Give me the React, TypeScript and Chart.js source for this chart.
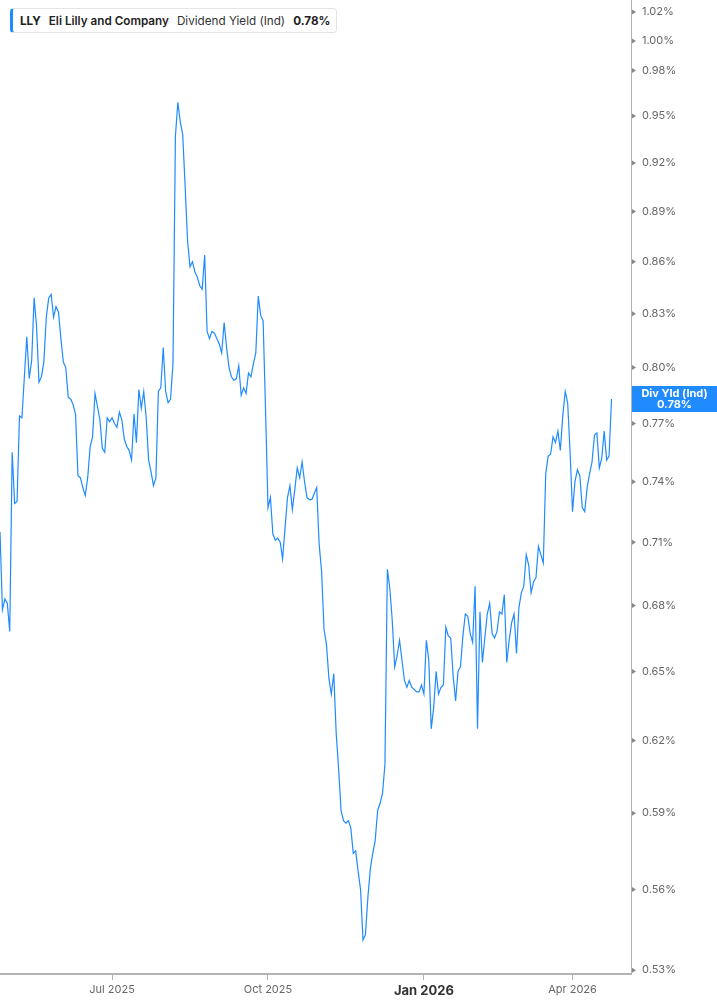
import { useEffect, useRef } from 'react';
import { Chart, registerables } from 'chart.js';

Chart.register(...registerables);

// LLY dividend yield (indicated), one value per trading day, in percent.
const APR_JUN_2025 = [
  0.715, 0.678, 0.683, 0.681, 0.668, 0.755, 0.729, 0.730, 0.774, 0.773,
  0.795, 0.817, 0.794, 0.804, 0.839, 0.823, 0.792, 0.795, 0.803, 0.828,
  0.839, 0.841, 0.828, 0.834, 0.831, 0.816, 0.803, 0.800, 0.784, 0.783,
  0.780, 0.775, 0.743, 0.742, 0.737, 0.733, 0.742, 0.758, 0.763, 0.786,
  0.779, 0.772, 0.757, 0.755, 0.773, 0.771,
];
const JUL_SEP_2025 = [
  0.773, 0.770, 0.768, 0.776, 0.772, 0.762, 0.758, 0.756, 0.751, 0.775,
  0.760, 0.788, 0.778, 0.787, 0.773, 0.751, 0.745, 0.738, 0.742, 0.787,
  0.789, 0.811, 0.787, 0.781, 0.783, 0.802, 0.937, 0.959, 0.946, 0.938,
  0.905, 0.872, 0.857, 0.860, 0.854, 0.851, 0.846, 0.844, 0.864, 0.820,
  0.816, 0.820, 0.819, 0.816, 0.813, 0.808, 0.825, 0.811, 0.800, 0.795,
  0.793, 0.794, 0.801, 0.785, 0.789, 0.786, 0.797, 0.795, 0.802, 0.808,
  0.840, 0.829, 0.826, 0.777,
];
const OCT_DEC_2025 = [
  0.727, 0.732, 0.714, 0.711, 0.712, 0.710, 0.702, 0.717, 0.732, 0.738,
  0.726, 0.736, 0.747, 0.742, 0.750, 0.740, 0.732, 0.731, 0.731, 0.734,
  0.737, 0.709, 0.696, 0.669, 0.662, 0.647, 0.640, 0.649, 0.623, 0.608,
  0.591, 0.587, 0.586, 0.587, 0.584, 0.574, 0.575, 0.567, 0.560, 0.541,
  0.543, 0.557, 0.568, 0.574, 0.579, 0.591, 0.594, 0.598, 0.610, 0.697,
  0.688, 0.673, 0.652, 0.657, 0.664, 0.655, 0.646, 0.643, 0.646, 0.643,
  0.642, 0.641, 0.641, 0.644,
];
const JAN_MAR_2026 = [
  0.640, 0.664, 0.655, 0.625, 0.634, 0.650, 0.640, 0.643, 0.644, 0.670,
  0.666, 0.665, 0.648, 0.637, 0.650, 0.652, 0.666, 0.676, 0.675, 0.667,
  0.663, 0.689, 0.625, 0.677, 0.654, 0.665, 0.676, 0.681, 0.667, 0.665,
  0.668, 0.677, 0.676, 0.685, 0.654, 0.664, 0.672, 0.676, 0.658, 0.679,
  0.686, 0.689, 0.704, 0.699, 0.686, 0.691, 0.693, 0.708, 0.704, 0.700,
  0.744, 0.753, 0.754, 0.763, 0.760, 0.766, 0.756, 0.774, 0.787, 0.781,
  0.755,
];
const APR_2026 = [
  0.725, 0.740, 0.746, 0.743, 0.727, 0.725, 0.737, 0.744, 0.750, 0.764,
  0.765, 0.747, 0.752, 0.766, 0.751, 0.753, 0.783,
];

const YIELD = [...APR_JUN_2025, ...JUL_SEP_2025, ...OCT_DEC_2025, ...JAN_MAR_2026, ...APR_2026];

// trading-day index of the first session of each labelled month
const X_TICK_INDEX = [46, 110, 174, 235];
const X_TICK_LABELS = ['Jul 2025', 'Oct 2025', 'Jan 2026', 'Apr 2026'];
const X_MAX = 259;

const Y_TICKS = [0.53, 0.56, 0.59, 0.62, 0.65, 0.68, 0.71, 0.74, 0.77, 0.8, 0.83, 0.86, 0.89, 0.92, 0.95, 0.98, 1.0, 1.02];
const Y_MIN = 0.5286;
const Y_MAX = 1.0284;

const BLUE = '#1f8bff';
const AXIS = '#b3b3b3';
const LABEL = '#666';
const FONT = 'Inter';

const lastValuePlugin = {
  id: 'lastValue',
  afterDraw(chart: any) {
    const { ctx, chartArea, scales } = chart;
    const y = scales.y;
    ctx.save();
    // small arrow marks on the right axis
    ctx.fillStyle = '#888';
    y.ticks.forEach((t: any) => {
      const py = y.getPixelForValue(t.value);
      ctx.beginPath();
      ctx.moveTo(chartArea.right + 1, py - 2.5);
      ctx.lineTo(chartArea.right + 5, py);
      ctx.lineTo(chartArea.right + 1, py + 2.5);
      ctx.closePath();
      ctx.fill();
    });
    const last = YIELD[YIELD.length - 1];
    const py = y.getPixelForValue(last);
    const left = chartArea.right + 1;
    ctx.fillStyle = BLUE;
    ctx.fillRect(left, py - 13, chart.width - left, 26);
    ctx.fillStyle = '#fff';
    ctx.font = `700 11px ${FONT}`;
    ctx.textAlign = 'center';
    ctx.textBaseline = 'middle';
    const cx = (left + chart.width) / 2;
    ctx.fillText('Div Yld (Ind)', cx, py - 5.5);
    ctx.fillText(last.toFixed(2) + '%', cx, py + 6);
    ctx.restore();
  },
};

function YieldChart() {
  const canvasRef = useRef<HTMLCanvasElement | null>(null);

  useEffect(() => {
    const el = canvasRef.current;
    if (!el) return;
    const chart = new Chart(el, {
      type: 'line',
      data: {
        datasets: [
          {
            label: 'Dividend Yield (Ind)',
            data: YIELD.map((v, i) => ({ x: i, y: v })),
            borderColor: BLUE,
            borderWidth: 1.2,
            pointRadius: 0,
            tension: 0,
            fill: false,
          },
        ],
      },
      options: {
        animation: false,
        responsive: true,
        maintainAspectRatio: false,
        layout: { padding: 0 },
        plugins: { legend: { display: false }, tooltip: { enabled: false } },
        scales: {
          x: {
            type: 'linear',
            min: 0,
            max: X_MAX,
            afterBuildTicks: (s: any) => {
              s.ticks = X_TICK_INDEX.map((v) => ({ value: v }));
            },
            afterFit: (s: any) => {
              s.height = 31;
              s.paddingLeft = 0;
              s.paddingRight = 0;
            },
            ticks: {
              autoSkip: false,
              maxRotation: 0,
              padding: 3,
              callback: (v: any) => X_TICK_LABELS[X_TICK_INDEX.indexOf(Number(v))],
              color: (c: any) => (c.tick && c.tick.value === 174 ? '#333' : LABEL),
              font: (c: any) =>
                c.tick && c.tick.value === 174
                  ? { family: FONT, size: 13, weight: 'bold' }
                  : { family: FONT, size: 11 },
            },
            grid: { drawOnChartArea: false, drawTicks: true, tickLength: 6, tickColor: AXIS, tickWidth: 1 },
            border: { display: true, color: AXIS, width: 2 },
          },
          y: {
            type: 'logarithmic',
            position: 'right',
            bounds: 'data',
            min: Y_MIN,
            max: Y_MAX,
            afterBuildTicks: (s: any) => {
              s.ticks = Y_TICKS.map((v) => ({ value: v }));
            },
            afterFit: (s: any) => {
              s.width = 86;
              s.paddingTop = 0;
              s.paddingBottom = 0;
            },
            ticks: {
              autoSkip: false,
              padding: 11,
              color: LABEL,
              font: { family: FONT, size: 11 },
              callback: (v: any) => Number(v).toFixed(2) + '%',
            },
            grid: { drawOnChartArea: false, drawTicks: false },
            border: { display: true, color: AXIS, width: 1 },
          },
        },
      },
      plugins: [lastValuePlugin],
    });
    return () => chart.destroy();
  }, []);

  return <canvas ref={canvasRef} />;
}

export default function App() {
  return (
    <div style={{ position: 'fixed', left: 0, top: 0, width: 717, height: 1005, background: '#fff' }}>
      <div style={{ position: 'absolute', inset: 0 }}>
        <YieldChart />
      </div>
      <div
        style={{
          position: 'absolute',
          left: 10,
          top: 8,
          height: 25,
          boxSizing: 'border-box',
          display: 'flex',
          alignItems: 'center',
          background: '#fff',
          border: '1px solid #e4e4e4',
          borderLeft: `3px solid ${BLUE}`,
          borderRadius: 4,
          padding: '0 6px 0 7px',
          fontFamily: FONT,
          fontSize: 11.7,
          color: '#222',
          whiteSpace: 'nowrap',
        }}
      >
        <span style={{ fontWeight: 700, marginRight: 8 }}>LLY</span>
        <span style={{ fontWeight: 600, marginRight: 8 }}>Eli Lilly and Company</span>
        <span style={{ fontWeight: 400, marginRight: 8, color: '#333' }}>Dividend Yield (Ind)</span>
        <span style={{ fontWeight: 700 }}>0.78%</span>
      </div>
    </div>
  );
}
